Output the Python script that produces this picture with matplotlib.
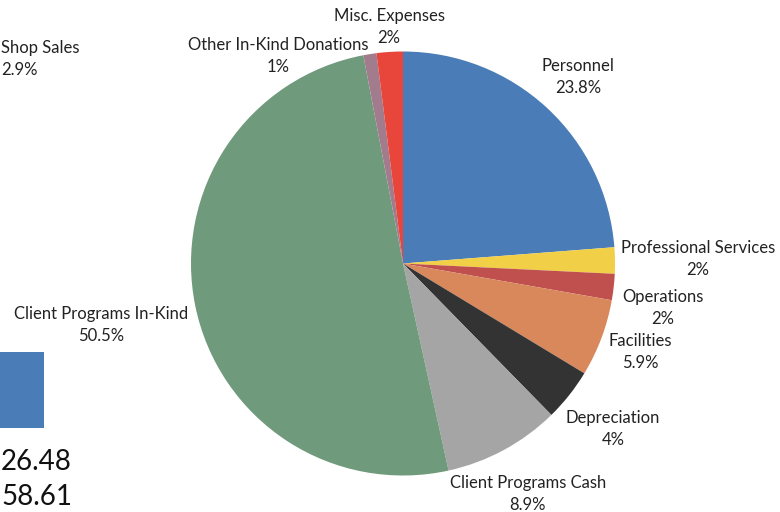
import matplotlib
matplotlib.use("Agg")
import matplotlib.pyplot as plt
from matplotlib.patches import Rectangle

plt.rcParams['font.family'] = ['Lato', 'DejaVu Sans']

# expense breakdown, clockwise from 12 o'clock
categories = ['Personnel', 'Professional Services', 'Operations', 'Facilities',
              'Depreciation', 'Client Programs Cash', 'Client Programs In-Kind',
              'Other In-Kind Donations', 'Misc. Expenses']
shares = [23.8, 2, 2, 5.9, 4, 8.9, 50.5, 1, 2]
pct_labels = ['23.8%', '2%', '2%', '5.9%', '4%', '8.9%', '50.5%', '1%', '2%']
colors = ['#4a7db8', '#f1cf46', '#c0504d', '#d9885b', '#333333',
          '#a5a5a5', '#6f9a7c', '#a27c8c', '#e8453b']

# label anchor (pixel x, pixel y of the first line) for each category
label_pos = [(578, 66), (698, 248), (663, 297), (640, 341), (613, 418),
             (528, 483), (101, 314), (278, 45), (389, 16)]

W, H = 780, 512
fig = plt.figure(figsize=(7.8, 5.12), dpi=100)
ax = fig.add_axes([0, 0, 1, 1])

cx, cy, r = 403, H - 263.5, 212
ax.pie(shares, colors=colors, startangle=90, counterclock=False,
       center=(cx, cy), radius=r, wedgeprops=dict(linewidth=0))
ax.set_xlim(0, W)
ax.set_ylim(0, H)
ax.set_aspect('equal')
ax.axis('off')

txt = '#222222'
fs = 12
for name, pct, (px, py) in zip(categories, pct_labels, label_pos):
    ax.text(px, H - py, name, ha='center', va='center', fontsize=fs, color=txt)
    ax.text(px, H - py - 22, pct, ha='center', va='center', fontsize=fs, color=txt)

# fragments of the neighbouring panel on the left
ax.text(1, H - 48, 'Shop Sales', ha='left', va='center', fontsize=fs, color=txt)
ax.text(1, H - 70, '2.9%', ha='left', va='center', fontsize=fs, color=txt)
ax.add_patch(Rectangle((-10, H - 428), 54, 76, color='#4a7db8', lw=0))
ax.text(1, H - 462, '26.48', ha='left', va='center', fontsize=20, color='#111111')
ax.text(1, H - 497, '58.61', ha='left', va='center', fontsize=20, color='#111111')

fig.savefig('out.png', dpi=100, facecolor='white')
